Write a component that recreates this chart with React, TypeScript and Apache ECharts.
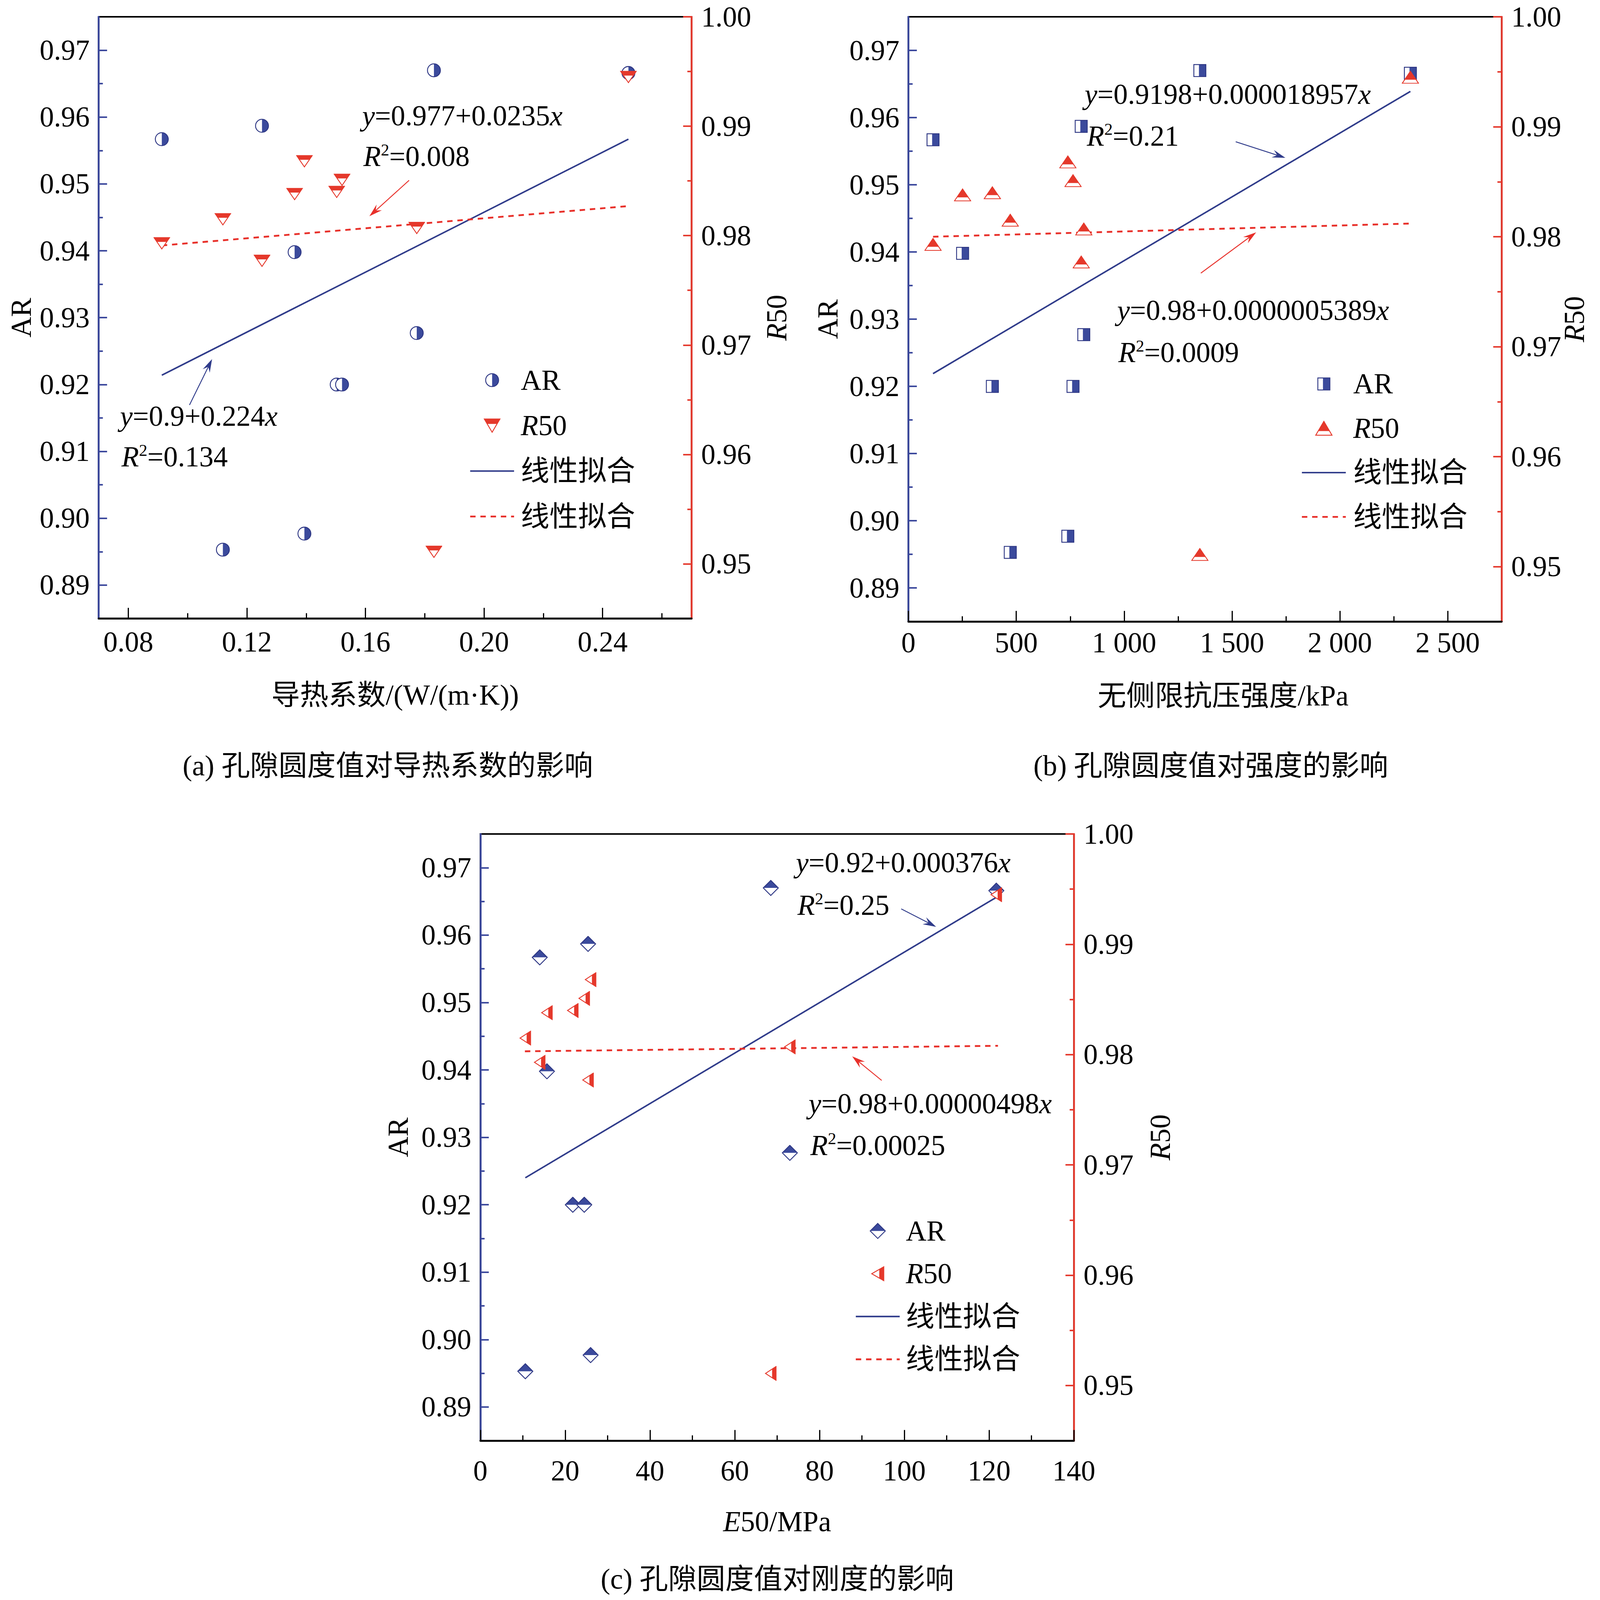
import React, { useEffect, useRef } from "react";
import * as echarts from "echarts";

// design space of the reference picture
const REF_W = 5319;
const REF_H = 4188;

// ---------------- data ----------------
const thermalConductivity = [0.0913, 0.1119, 0.1251, 0.1361, 0.1394, 0.1503, 0.1521, 0.1773, 0.1831, 0.2487];
const compressiveStrength = [114, 472, 801, 251, 739, 389, 763, 813, 1351, 2327];
const secantModulus = [14.0, 10.6, 25.4, 15.7, 26.0, 21.8, 24.5, 73.0, 68.5, 121.7];
const arValues = [0.9567, 0.8953, 0.9587, 0.9398, 0.8977, 0.92, 0.92, 0.9277, 0.967, 0.9666];
const r50Values = [0.9793, 0.9815, 0.9777, 0.9838, 0.9868, 0.984, 0.9851, 0.9807, 0.9511, 0.9945];

// fitted lines (end points)
const fitKx = [0.0913, 0.2487];
const fitKAR = [0.9214, 0.9567];
const fitKR50 = [0.9791, 0.9827];
const fitUx = [114, 2327];
const fitUAR = [0.9219, 0.9639];
const fitUR50 = [0.98, 0.9812];
const fitEx = [10.6, 121.7];
const fitEAR = [0.924, 0.9656];
const fitEx2 = [10.5, 122.1];
const fitER50 = [0.9803, 0.9808];

// ticks
const kTicks = [0.08, 0.12, 0.16, 0.2, 0.24];
const kMinor = [0.1, 0.14, 0.18, 0.22, 0.26];
const ucsTicks = [0, 500, 1000, 1500, 2000, 2500];
const ucsMinor = [250, 750, 1250, 1750, 2250];
const e50Ticks = [0, 20, 40, 60, 80, 100, 120, 140];
const e50Minor = [10, 30, 50, 70, 90, 110, 130];
const arTicks = [0.89, 0.9, 0.91, 0.92, 0.93, 0.94, 0.95, 0.96, 0.97];
const arMinor = [0.895, 0.905, 0.915, 0.925, 0.935, 0.945, 0.955, 0.965];
const r50Ticks = [0.95, 0.96, 0.97, 0.98, 0.99, 1.0];
const r50Minor = [0.955, 0.965, 0.975, 0.985, 0.995];

// texts
const eqTexts = {
  a: ["{i|y}=0.977+0.0235{i|x}", "{i|R}{s|2}=0.008", "{i|y}=0.9+0.224{i|x}", "{i|R}{s|2}=0.134"],
  b: ["{i|y}=0.9198+0.000018957{i|x}", "{i|R}{s|2}=0.21", "{i|y}=0.98+0.0000005389{i|x}", "{i|R}{s|2}=0.0009"],
  c: ["{i|y}=0.92+0.000376{i|x}", "{i|R}{s|2}=0.25", "{i|y}=0.98+0.00000498{i|x}", "{i|R}{s|2}=0.00025"],
};
const subTitles = ["(a) 孔隙圆度值对导热系数的影响", "(b) 孔隙圆度值对强度的影响", "(c) 孔隙圆度值对刚度的影响"];
const xNames = ["导热系数/(W/(m·K))", "无侧限抗压强度/kPa", "{i|E}50/MPa"];

// ---------------- styles ----------------
const FONT = '"Liberation Serif", "Times New Roman", "Noto Sans CJK SC", serif';
const FS = 95;
const AR_FILL = "#3B4A9C";
const AR_EDGE = "#2E3784";
const RED = "#E5382B";
const AXIS_BLUE = "#3A479C";
const AXIS_RED = "#E53A2E";
const LINE_BLUE = "#2F3B8A";
const LINE_RED = "#E8302A";

type Shape = { w: number; h: number; body: (f: string, e: string) => string };
const shapes: Record<string, Shape> = {
  circle: {
    w: 48, h: 48,
    body: (f, e) =>
      `<circle cx="24" cy="24" r="21.5" fill="#fff"/><path d="M24 2.5 A21.5 21.5 0 0 1 24 45.5 Z" fill="${f}"/><circle cx="24" cy="24" r="21.5" fill="none" stroke="${e}" stroke-width="3"/>`,
  },
  square: {
    w: 44, h: 44,
    body: (f, e) =>
      `<rect x="2" y="2" width="40" height="40" fill="#fff"/><rect x="19" y="2" width="23" height="40" fill="${f}"/><rect x="2" y="2" width="40" height="40" fill="none" stroke="${e}" stroke-width="3"/>`,
  },
  diamond: {
    w: 54, h: 54,
    body: (f, e) =>
      `<polygon points="27,2 52,27 27,52 2,27" fill="#fff"/><polygon points="27,2 52,27 2,27" fill="${f}"/><polygon points="27,2 52,27 27,52 2,27" fill="none" stroke="${e}" stroke-width="3"/>`,
  },
  down: {
    w: 56, h: 48,
    body: (f, e) =>
      `<polygon points="2,2 54,2 28,46" fill="#fff"/><polygon points="2,2 54,2 44.25,18.5 11.75,18.5" fill="${f}"/><polygon points="2,2 54,2 28,46" fill="none" stroke="${e}" stroke-width="3"/>`,
  },
  up: {
    w: 58, h: 50,
    body: (f, e) =>
      `<polygon points="29,2 56,48 2,48" fill="#fff"/><polygon points="29,2 47.9,34.2 10.1,34.2" fill="${f}"/><polygon points="29,2 56,48 2,48" fill="none" stroke="${e}" stroke-width="3"/>`,
  },
  left: {
    w: 44, h: 50,
    body: (f, e) =>
      `<polygon points="2,25 42,2 42,48" fill="#fff"/><polygon points="27,10.6 42,2 42,48 27,39.4" fill="${f}"/><polygon points="2,25 42,2 42,48" fill="none" stroke="${e}" stroke-width="3"/>`,
  },
};

function markerUrl(kind: string, fill: string, edge: string, boxW?: number, boxH?: number) {
  const s = shapes[kind];
  const W = boxW || s.w;
  const H = boxH || s.h;
  const tx = (W - s.w) / 2;
  const ty = (H - s.h) / 2;
  const svg = `<svg xmlns="http://www.w3.org/2000/svg" width="${W}" height="${H}" viewBox="0 0 ${W} ${H}"><g transform="translate(${tx},${ty})">${s.body(fill, edge)}</g></svg>`;
  return "image://data:image/svg+xml;charset=utf-8," + encodeURIComponent(svg);
}

const fmt2 = (v: number) => v.toFixed(2);
const fmtThousands = (v: number) =>
  v >= 1000 ? `${Math.floor(v / 1000)} ${String(v % 1000).padStart(3, "0")}` : String(v);
const fmtInt = (v: number) => String(v);

const pairs = (xs: number[], ys: number[]) => xs.map((x, i) => [x, ys[i]]);

// layout in the reference's pixel space
const panels = [
  {
    grid: { left: 328, top: 44, width: 1971, height: 1575 },
    xMin: 0.07, xMax: 0.27, xTicks: kTicks, xMinor: kMinor, xFmt: fmt2,
    xNameGap: 163, xLabelMargin: 24, xNamePad: 0, yNameGapL: 210, yNameGapR: 236,
    xs: thermalConductivity, arShape: "circle", r50Shape: "down",
    fitX: fitKx, fitX2: fitKx, fitAR: fitKAR, fitR50: fitKR50,
    legend: { left: 1560, top: 945, gap: 19, spacer: 16 },
    title: { x: 1289, y: 2005 },
    eq: "a",
    eqPos: [[1204, 303], [1208, 410], [399, 1089], [404, 1196]],
    arrows: [
      [1360, 472, 1228, 566, LINE_RED],
      [630, 1060, 705, 940, LINE_BLUE],
    ],
  },
  {
    grid: { left: 3020, top: 44, width: 1972, height: 1583 },
    xMin: 0, xMax: 2750, xTicks: ucsTicks, xMinor: ucsMinor, xFmt: fmtThousands,
    xNameGap: 157, xLabelMargin: 18, xNamePad: 120, yNameGapL: 220, yNameGapR: 195,
    xs: compressiveStrength, arShape: "square", r50Shape: "up",
    fitX: fitUx, fitX2: fitUx, fitAR: fitUAR, fitR50: fitUR50,
    legend: { left: 4325, top: 955, gap: 16, spacer: 18 },
    title: { x: 4025, y: 2005 },
    eq: "b",
    eqPos: [[3606, 247], [3613, 356], [3714, 812], [3718, 923]],
    arrows: [
      [4108, 371, 4273, 413, LINE_BLUE],
      [3992, 715, 4176, 608, LINE_RED],
    ],
  },
  {
    grid: { left: 1597, top: 2183, width: 1973, height: 1588 },
    xMin: 0, xMax: 140, xTicks: e50Ticks, xMinor: e50Minor, xFmt: fmtInt,
    xNameGap: 175, xLabelMargin: 42, xNamePad: 0, yNameGapL: 225, yNameGapR: 240,
    xs: secantModulus, arShape: "diamond", r50Shape: "left",
    fitX: fitEx, fitX2: fitEx2, fitAR: fitEAR, fitR50: fitER50,
    legend: { left: 2842, top: 3172, gap: 12, spacer: 14 },
    title: { x: 2584, y: 4133 },
    eq: "c",
    eqPos: [[2646, 2258], [2651, 2370], [2688, 2889], [2694, 2998]],
    arrows: [
      [2996, 2379, 3112, 2426, LINE_BLUE],
      [2931, 2828, 2833, 2765, LINE_RED],
    ],
  },
];

function arrowGraphic(x1: number, y1: number, x2: number, y2: number, color: string, k: number) {
  const dx = x2 - x1;
  const dy = y2 - y1;
  const len = Math.hypot(dx, dy);
  const ux = dx / len;
  const uy = dy / len;
  const nx = -uy;
  const ny = ux;
  const L = 44 * k;
  const Wd = 13 * k;
  const notch = 28 * k;
  const bx = x2 - ux * L;
  const by = y2 - uy * L;
  return {
    type: "group",
    silent: true,
    children: [
      {
        type: "line",
        shape: { x1, y1, x2: x2 - ux * notch, y2: y2 - uy * notch },
        style: { stroke: color, lineWidth: 3 * k },
      },
      {
        type: "polygon",
        shape: {
          points: [
            [x2, y2],
            [bx + nx * Wd, by + ny * Wd],
            [x2 - ux * notch, y2 - uy * notch],
            [bx - nx * Wd, by - ny * Wd],
          ],
        },
        style: { fill: color },
      },
    ],
  };
}

function buildOption(sx: number, sy: number) {
  const X = (v: number) => v * sx;
  const Y = (v: number) => v * sy;
  const f = FS * sx;
  const lh = 100 * sy;

  const axisNameRich = {
    i: { fontStyle: "italic", fontFamily: FONT, fontSize: f, color: "#000" },
  };
  const graphicRich = {
    i: { fontStyle: "italic", fontFamily: FONT, fontSize: f, fill: "#000", lineHeight: lh },
    s: { fontFamily: FONT, fontSize: 56 * sx, fill: "#000", verticalAlign: "top", lineHeight: 60 * sy, padding: [10 * sy, 0, 0, 0] },
  };

  const grid = panels.map((p) => ({
    left: X(p.grid.left),
    top: Y(p.grid.top),
    width: X(p.grid.width),
    height: Y(p.grid.height),
    show: true,
    borderColor: "#000",
    borderWidth: 4 * sy,
    backgroundColor: "transparent",
    containLabel: false,
    outerBoundsMode: "none",
  }));

  const xAxis: any[] = [];
  const yAxis: any[] = [];
  const legend: any[] = [];
  const series: any[] = [];
  const graphic: any[] = [];
  const labelStyle = { fontFamily: FONT, fontSize: f, color: "#000" };
  const solidW = 5 * sx;
  const dashW = 6 * sx;
  const dashPattern = [18 * sx, 16 * sx];

  panels.forEach((p, gi) => {
    xAxis.push({
      type: "value",
      gridIndex: gi,
      min: p.xMin,
      max: p.xMax,
      position: "bottom",
      name: xNames[gi],
      nameLocation: "middle",
      nameGap: Y(p.xNameGap),
      nameMoveOverlap: false,
      nameTextStyle: { ...labelStyle, padding: [0, 0, 0, X(p.xNamePad)], rich: axisNameRich },
      axisLine: { show: true, onZero: false, lineStyle: { color: "#000", width: 5 * sy } },
      axisTick: { show: true, inside: true, length: Y(28), customValues: p.xTicks, lineStyle: { color: "#000", width: 4 * sx } },
      axisLabel: { show: true, customValues: p.xTicks, formatter: p.xFmt, margin: Y(p.xLabelMargin), ...labelStyle },
      splitLine: { show: false },
    });
    xAxis.push({
      type: "value",
      gridIndex: gi,
      min: p.xMin,
      max: p.xMax,
      position: "bottom",
      axisLine: { show: false, onZero: false },
      axisTick: { show: true, inside: true, length: Y(14), customValues: p.xMinor, lineStyle: { color: "#000", width: 4 * sx } },
      axisLabel: { show: false },
      splitLine: { show: false },
    });

    yAxis.push({
      type: "value", gridIndex: gi, position: "left",
      min: 0.885, max: 0.975,
      name: "AR",
      nameLocation: "middle",
      nameGap: X(p.yNameGapL),
      nameMoveOverlap: false,
      nameTextStyle: labelStyle,
      axisLine: { show: true, onZero: false, lineStyle: { color: AXIS_BLUE, width: 6 * sx } },
      axisTick: { show: true, inside: true, length: X(28), customValues: arTicks, lineStyle: { color: AXIS_BLUE, width: 4 * sy } },
      axisLabel: { show: true, customValues: arTicks, formatter: fmt2, margin: X(30), ...labelStyle },
      splitLine: { show: false },
    });
    yAxis.push({
      type: "value", gridIndex: gi, position: "right",
      min: 0.945, max: 1.0,
      name: "{i|R}50",
      nameLocation: "middle",
      nameGap: X(p.yNameGapR),
      nameMoveOverlap: false,
      nameTextStyle: { ...labelStyle, rich: axisNameRich },
      axisLine: { show: true, onZero: false, lineStyle: { color: AXIS_RED, width: 6 * sx } },
      axisTick: { show: true, inside: true, length: X(28), customValues: r50Ticks, lineStyle: { color: AXIS_RED, width: 4 * sy } },
      axisLabel: { show: true, customValues: r50Ticks, formatter: fmt2, margin: X(32), ...labelStyle },
      splitLine: { show: false },
    });
    yAxis.push({
      type: "value", gridIndex: gi, position: "left", min: 0.885, max: 0.975,
      axisLine: { show: false, onZero: false },
      axisTick: { show: true, inside: true, length: X(14), customValues: arMinor, lineStyle: { color: AXIS_BLUE, width: 4 * sy } },
      axisLabel: { show: false },
      splitLine: { show: false },
    });
    yAxis.push({
      type: "value", gridIndex: gi, position: "right", min: 0.945, max: 1.0,
      axisLine: { show: false, onZero: false },
      axisTick: { show: true, inside: true, length: X(14), customValues: r50Minor, lineStyle: { color: AXIS_RED, width: 4 * sy } },
      axisLabel: { show: false },
      splitLine: { show: false },
    });

    const xi = gi * 2;
    const yAR = gi * 4;
    const yR = gi * 4 + 1;
    const arS = shapes[p.arShape];
    const rS = shapes[p.r50Shape];

    series.push({
      type: "line", name: "线性拟合", xAxisIndex: xi, yAxisIndex: yAR,
      data: pairs(p.fitX, p.fitAR), symbol: "none", z: 2, silent: true,
      lineStyle: { color: LINE_BLUE, width: solidW }, itemStyle: { color: LINE_BLUE },
    });
    series.push({
      type: "line", name: "线性拟合 ", xAxisIndex: xi, yAxisIndex: yR,
      data: pairs(p.fitX2, p.fitR50), symbol: "none", z: 2, silent: true,
      lineStyle: { color: LINE_RED, width: dashW, type: dashPattern }, itemStyle: { color: LINE_RED },
    });
    series.push({
      type: "scatter", name: "AR", xAxisIndex: xi, yAxisIndex: yAR,
      data: pairs(p.xs, arValues), z: 4, silent: true,
      symbol: markerUrl(p.arShape, AR_FILL, AR_EDGE), symbolSize: [arS.w * sx, arS.h * sx],
      itemStyle: { color: AR_FILL, opacity: 1 },
    });
    series.push({
      type: "scatter", name: "R50", xAxisIndex: xi, yAxisIndex: yR,
      data: pairs(p.xs, r50Values), z: 5, silent: true,
      symbol: markerUrl(p.r50Shape, RED, RED), symbolSize: [rS.w * sx, rS.h * sx],
      itemStyle: { color: RED, opacity: 1 },
    });

    const iconBoxH = (48 * sy) / sx;
    const hiddenSymbol = { opacity: 0, color: "transparent", borderWidth: 0 };
    legend.push({
      orient: "vertical",
      left: X(p.legend.left),
      top: Y(p.legend.top),
      padding: 0,
      itemWidth: X(146),
      itemHeight: Y(48),
      itemGap: Y(p.legend.gap),
      selectedMode: false,
      data: [
        { name: "AR", icon: markerUrl(p.arShape, AR_FILL, AR_EDGE, 146, iconBoxH) },
        { name: "R50", icon: markerUrl(p.r50Shape, RED, RED, 146, iconBoxH) },
        { name: "线性拟合", itemStyle: hiddenSymbol, lineStyle: { color: LINE_BLUE, width: solidW, type: "solid" } },
        { name: "线性拟合 ", itemStyle: hiddenSymbol, lineStyle: { color: LINE_RED, width: dashW, type: dashPattern } },
      ],
      formatter: (name: string) => (name === "R50" ? "{sp|}{i|R}50" : "{sp|}" + name.trim()),
      textStyle: {
        ...labelStyle,
        lineHeight: lh,
        rich: {
          sp: { width: X(p.legend.spacer), fontSize: f, lineHeight: lh },
          i: { fontStyle: "italic", fontFamily: FONT, fontSize: f, color: "#000", lineHeight: lh },
        },
      },
    });

    const texts = eqTexts[p.eq as "a" | "b" | "c"];
    texts.forEach((t, k) => {
      graphic.push({
        type: "text",
        x: X(p.eqPos[k][0]),
        y: Y(p.eqPos[k][1]),
        silent: true,
        style: {
          text: t,
          fontFamily: FONT,
          fontSize: f,
          lineHeight: lh,
          fill: "#000",
          align: "left",
          verticalAlign: "middle",
          rich: graphicRich,
        },
      });
    });
    p.arrows.forEach((a) => {
      graphic.push(
        arrowGraphic(X(a[0] as number), Y(a[1] as number), X(a[2] as number), Y(a[3] as number), a[4] as string, sx)
      );
    });
    graphic.push({
      type: "text",
      x: X(p.title.x),
      y: Y(p.title.y),
      silent: true,
      style: {
        text: subTitles[gi],
        fontFamily: FONT,
        fontSize: f,
        fill: "#000",
        align: "center",
        verticalAlign: "middle",
      },
    });
  });

  return {
    animation: false,
    backgroundColor: "#fff",
    grid,
    xAxis,
    yAxis,
    legend,
    series,
    graphic,
  };
}

export default function App() {
  const ref = useRef<HTMLDivElement>(null);
  useEffect(() => {
    const el = ref.current;
    if (!el) return;
    document.body.style.margin = "0";
    const w = el.clientWidth || REF_W;
    const h = el.clientHeight || REF_H;
    const chart = echarts.init(el, null, { renderer: "svg", width: w, height: h });
    chart.setOption(buildOption(w / REF_W, h / REF_H) as any);
    return () => chart.dispose();
  }, []);
  return (
    <div
      ref={ref}
      style={{ position: "fixed", left: 0, top: 0, width: "100vw", height: "100vh", background: "#fff" }}
    />
  );
}
